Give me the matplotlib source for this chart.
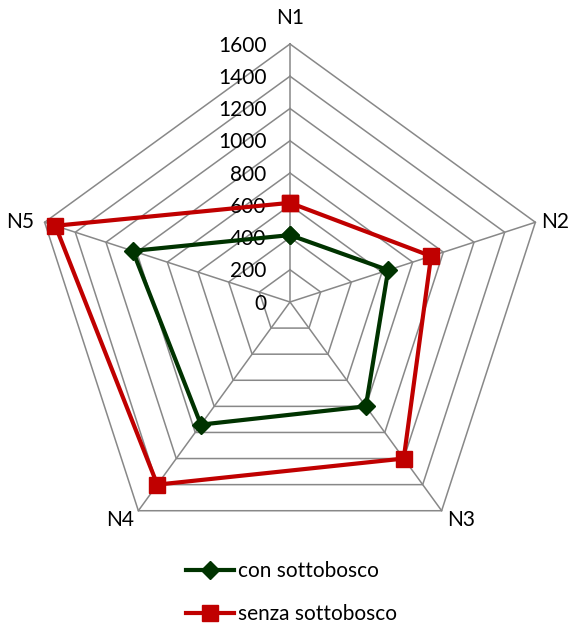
import numpy as np
import matplotlib.pyplot as plt

# dati
categorie = ['N1', 'N2', 'N3', 'N4', 'N5']
con_sottobosco = [415, 640, 800, 940, 1025]
senza_sottobosco = [615, 920, 1200, 1400, 1530]
livelli = [0, 200, 400, 600, 800, 1000, 1200, 1400, 1600]

plt.rcParams['font.family'] = ['Lato', 'DejaVu Sans']

W, H = 570, 623
cx, cy = 290, 302          # centro in pixel
R = 258                     # raggio in pixel per 1600
s = R / 1600.0

fig = plt.figure(figsize=(W / 100, H / 100), dpi=100)
ax = fig.add_axes([0, 0, 1, 1])
ax.set_xlim(-cx / s, (W - cx) / s)
ax.set_ylim(-(H - cy) / s, cy / s)
ax.axis('off')

ang = np.pi / 2 - np.arange(len(categorie)) * 2 * np.pi / len(categorie)

def xy(vals):
    v = np.asarray(vals, dtype=float)
    x = v * np.cos(ang)
    y = v * np.sin(ang)
    return np.append(x, x[0]), np.append(y, y[0])

grigio = '#888888'
for lv in livelli[1:]:
    gx, gy = xy([lv] * len(categorie))
    ax.plot(gx, gy, color=grigio, lw=1.1, zorder=1)
for a in ang:
    ax.plot([0, 1600 * np.cos(a)], [0, 1600 * np.sin(a)], color=grigio, lw=1.1, zorder=1)

for lv in livelli:
    ax.text(-145, lv - 10, str(lv), ha='right', va='center', fontsize=15, color='#000000')

off = [(0, 160), (120, 0), (120, -60), (-110, -60), (-150, 0)]
for c, a, (dx, dy) in zip(categorie, ang, off):
    ax.text(1600 * np.cos(a) + dx, 1600 * np.sin(a) + dy, c,
            ha='center', va='center', fontsize=15)

x1, y1 = xy(con_sottobosco)
ax.plot(x1, y1, color='#003300', lw=3, marker='D', ms=9, zorder=3,
        label='con sottobosco')
x2, y2 = xy(senza_sottobosco)
ax.plot(x2, y2, color='#C00000', lw=3, marker='s', ms=11, zorder=3,
        label='senza sottobosco')

ax.legend(loc='upper left', bbox_to_anchor=(178 / W, 1 - 553 / H), frameon=False,
          fontsize=15, handlelength=2.3, handletextpad=0.2, labelspacing=1.1,
          borderaxespad=0)

fig.savefig('out.png', dpi=100)
